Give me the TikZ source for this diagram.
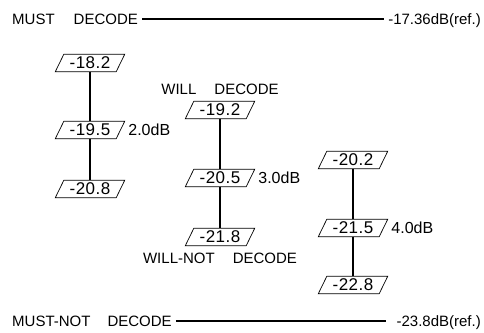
\documentclass[tikz,border=0pt]{standalone}
\usepackage{fontspec}
\setmainfont{Liberation Sans}
\begin{document}
\begin{tikzpicture}[x=1pt,y=-1pt,
  every node/.style={font=\fontsize{15}{17}\selectfont},
  val/.style={inner sep=0pt, minimum width=52pt, minimum height=17pt,
    font=\fontsize{17}{18}\selectfont\addfontfeature{LetterSpace=3}},
  lab/.style={inner sep=0pt, text height=11pt, text depth=0pt},
  dlab/.style={lab, anchor=west, font=\fontsize{16}{18}\selectfont},
  stem/.style={line width=1.8pt},
  level/.style={line width=2.4pt},
  pg/.style={line width=0.7pt}]
\useasboundingbox (0,0) rectangle (484,332);
% top and bottom reference levels
\node[lab, anchor=west] (must) at (12,19) {MUST\hspace{19pt}DECODE};
\node[lab, anchor=east] (ref1) at (481,19) {-17.36dB(ref.)};
\draw[level] ([xshift=4pt]must.east) -- ([xshift=-4pt]ref1.west);
\node[lab, anchor=west] (mustnot) at (12,321) {MUST-NOT\hspace{17pt}DECODE};
\node[lab, anchor=east] (ref2) at (481,321) {-23.8dB(ref.)};
\draw[level] ([xshift=4pt]mustnot.east) -- ([xshift=-10pt]ref2.west);
% column 1
\node[val] (a1) at (90,63) {-18.2};
\node[val] (a2) at (90,130) {-19.5};
\node[val] (a3) at (90,189) {-20.8};
% column 2
\node[val] (b1) at (220,110) {-19.2};
\node[val] (b2) at (220,178) {-20.5};
\node[val] (b3) at (220,237) {-21.8};
% column 3
\node[val] (c1) at (353,160) {-20.2};
\node[val] (c2) at (353,228) {-21.5};
\node[val] (c3) at (353,285) {-22.8};
\foreach \n in {a1,a2,a3,b1,b2,b3,c1,c2,c3}{
  \draw[pg] ([xshift=-8.5pt]\n.south west) -- (\n.south east)
     -- ([xshift=8.5pt]\n.north east) -- (\n.north west) -- cycle;
}
\draw[stem] (a1.south) -- (a2.north);
\draw[stem] (a2.south) -- (a3.north);
\draw[stem] (b1.south) -- (b2.north);
\draw[stem] (b2.south) -- (b3.north);
\draw[stem] (c1.south) -- (c2.north);
\draw[stem] (c2.south) -- (c3.north);
\node[dlab] (d1) at ([xshift=12pt]a2.east) {2.0dB};
\node[dlab] (d2) at ([xshift=12pt]b2.east) {3.0dB};
\node[dlab] (d3) at ([xshift=12pt]c2.east) {4.0dB};
\node[lab, anchor=south] (will) at ([yshift=7pt]b1.north) {WILL\hspace{18pt}DECODE};
\node[lab, anchor=north] (willnot) at ([yshift=-7pt]b3.south) {WILL-NOT\hspace{18pt}DECODE};
\end{tikzpicture}
\end{document}
